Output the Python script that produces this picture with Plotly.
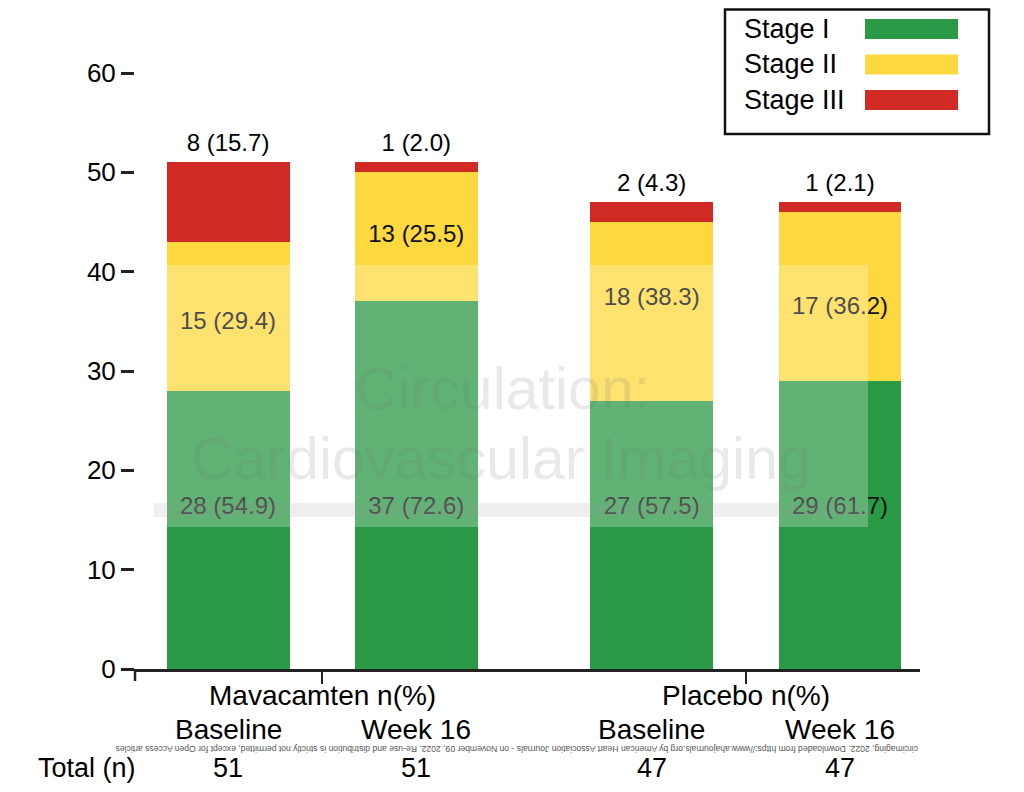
import plotly.graph_objects as go

# data
groups = ["Mavacamten n(%)", "Placebo n(%)"]
timepoints = ["Baseline", "Week 16", "Baseline", "Week 16"]
stages = ["Stage I", "Stage II", "Stage III"]
stage1_n = [28, 37, 27, 29]
stage2_n = [15, 13, 18, 17]
stage3_n = [8, 1, 2, 1]
stage1_pct = [54.9, 72.6, 57.5, 61.7]
stage2_pct = [29.4, 25.5, 38.3, 36.2]
stage3_pct = [15.7, 2.0, 4.3, 2.1]
totals = [51, 51, 47, 47]
y_ticks = [0, 10, 20, 30, 40, 50, 60]

# layout helpers (page body has an 8px margin, so the figure is 16px smaller)
OFF = 8
W, H = 1024 - 2 * OFF, 792 - 2 * OFF
ML, MR, MT, MB = 135 - OFF, 1024 - OFF - 920, 73 - OFF, 792 - OFF - 669
bar_x = [1, 2, 3.25, 4.25]
group_x = [(bar_x[0] + bar_x[1]) / 2, (bar_x[2] + bar_x[3]) / 2]
# where the in-bar labels sit (placed by hand in the original)
stage1_label_y = [16.2, 16.2, 16.2, 16.2]
stage2_label_y = [34.8, 43.6, 37.2, 36.3]
colors = ["#2b9a46", "#fdd83f", "#d12a24"]
FONT = "Liberation Sans, Arial, sans-serif"


def px_x(px):
    return (px - OFF - ML) / (W - ML - MR)


def px_y(py):
    return (H - MB - (py - OFF)) / (H - MT - MB)


fig = go.Figure()

for name, vals, col in zip(stages, [stage1_n, stage2_n, stage3_n], colors):
    fig.add_trace(go.Bar(x=bar_x, y=vals, name=name, width=0.653,
                         marker=dict(color=col, line=dict(width=0)),
                         hoverinfo="skip"))

lbl = lambda n, p: [f"{a} ({b:.1f})" for a, b in zip(n, p)]

fig.add_trace(go.Scatter(x=bar_x, y=stage1_label_y, mode="text",
                         text=lbl(stage1_n, stage1_pct),
                         textfont=dict(size=24, color="#111", family=FONT),
                         hoverinfo="skip"))
fig.add_trace(go.Scatter(x=bar_x, y=stage2_label_y, mode="text",
                         text=lbl(stage2_n, stage2_pct),
                         textfont=dict(size=24, color="#111", family=FONT),
                         hoverinfo="skip"))
# stage III labels, above the bars
fig.add_trace(go.Scatter(x=bar_x, y=[t + 0.5 for t in totals], mode="text",
                         textposition="top center",
                         text=lbl(stage3_n, stage3_pct),
                         textfont=dict(size=24, color="#000", family=FONT),
                         hoverinfo="skip"))

shapes = [
    # y axis runs a little below the x axis
    dict(type="line", xref="paper", yref="paper", x0=0, x1=0, y0=0, y1=px_y(681),
         line=dict(color="#222", width=2.5)),
    # watermark panel
    dict(type="rect", xref="paper", yref="paper", x0=px_x(155), x1=px_x(868),
         y0=px_y(527), y1=px_y(265), fillcolor="rgba(255,255,255,0.25)",
         line=dict(width=0), layer="above"),
    dict(type="rect", xref="paper", yref="paper", x0=px_x(154), x1=px_x(870),
         y0=px_y(517), y1=px_y(503), fillcolor="rgba(150,150,150,0.15)",
         line=dict(width=0), layer="above"),
    # legend box
    dict(type="rect", xref="paper", yref="paper", x0=px_x(725), x1=px_x(989),
         y0=px_y(134), y1=px_y(9.5), fillcolor="white",
         line=dict(color="#111", width=2.5)),
]

annotations = []
# legend entries
for i, (name, col) in enumerate(zip(stages, colors)):
    cy = 29 + 35.5 * i
    shapes.append(dict(type="rect", xref="paper", yref="paper",
                       x0=px_x(865), x1=px_x(958), y0=px_y(cy + 10), y1=px_y(cy - 10),
                       fillcolor=col, line=dict(width=0)))
    annotations.append(dict(xref="paper", yref="paper", x=px_x(742), y=px_y(cy),
                            text=name, showarrow=False, xanchor="left", yanchor="middle",
                            font=dict(size=27, color="#000", family=FONT)))

# group labels
for gx, g in zip(group_x, groups):
    annotations.append(dict(x=gx, xref="x", yref="paper", y=px_y(695), text=g,
                            showarrow=False, yanchor="middle",
                            font=dict(size=28, color="#000", family=FONT)))

# timepoint labels and totals
for x, t, n in zip(bar_x, timepoints, totals):
    annotations.append(dict(x=x, xref="x", yref="paper", y=px_y(729), text=t,
                            showarrow=False, yanchor="middle",
                            font=dict(size=28, color="#000", family=FONT)))
    annotations.append(dict(x=x, xref="x", yref="paper", y=px_y(768), text=str(n),
                            showarrow=False, yanchor="middle",
                            font=dict(size=27, color="#000", family=FONT)))
annotations.append(dict(xref="paper", yref="paper", x=px_x(36), y=px_y(768),
                        text="Total (n)", showarrow=False, xanchor="left", yanchor="middle",
                        font=dict(size=27, color="#000", family=FONT)))

# watermark text
annotations.append(dict(xref="paper", yref="paper", x=px_x(502), y=px_y(389),
                        text="Circulation:", showarrow=False,
                        font=dict(size=59, color="rgba(120,120,120,0.16)", family=FONT)))
annotations.append(dict(xref="paper", yref="paper", x=px_x(501), y=px_y(459),
                        text="Cardiovascular Imaging", showarrow=False,
                        font=dict(size=59, color="rgba(120,120,120,0.16)", family=FONT)))
# upside-down download notice
annotations.append(dict(xref="paper", yref="paper", x=px_x(517), y=px_y(756),
                        text="circimaging, 2022. Downloaded from https://www.ahajournals.org by "
                             "American Heart Association Journals - on November 09, 2022. Re-use and "
                             "distribution is strictly not permitted, except for Open Access articles",
                        textangle=180, showarrow=False,
                        font=dict(size=8.6, color="#555", family=FONT)))

fig.update_layout(
    width=W, height=H, barmode="stack", showlegend=False,
    margin=dict(l=ML, r=MR, t=MT, b=MB, autoexpand=False),
    plot_bgcolor="white", paper_bgcolor="white",
    font=dict(family=FONT, color="#000"),
    shapes=shapes, annotations=annotations,
    xaxis=dict(range=[0.506, 4.675], showgrid=False, zeroline=False,
               showline=True, linecolor="#222", linewidth=2.5,
               tickvals=group_x, showticklabels=False, ticks="outside",
               ticklen=12, tickwidth=2, tickcolor="#222"),
    yaxis=dict(range=[0, 60], tickvals=y_ticks, showgrid=False, zeroline=False,
               showline=False, ticks="outside", ticklen=13, tickwidth=2.5,
               tickcolor="#222", tickfont=dict(size=26, color="#000", family=FONT)),
)

fig.write_html("out.html")
